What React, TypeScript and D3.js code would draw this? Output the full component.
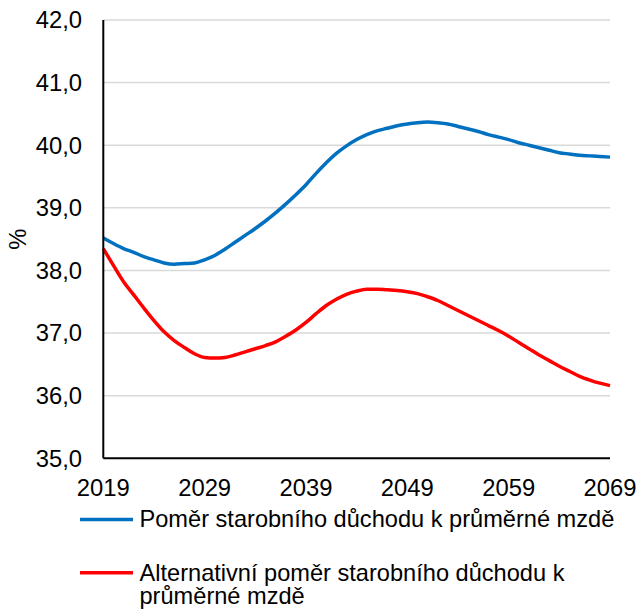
import React from "react";
import * as d3 from "d3";

const years: number[] = d3.range(2019, 2070);
const ratio: number[] = [
  38.52, 38.43, 38.35, 38.29, 38.22, 38.17, 38.12, 38.1, 38.11, 38.12,
  38.17, 38.24, 38.34, 38.45, 38.56, 38.67, 38.79, 38.92, 39.06, 39.21,
  39.37, 39.55, 39.72, 39.87, 39.99, 40.09, 40.17, 40.23, 40.27, 40.31,
  40.34, 40.36, 40.37, 40.36, 40.34, 40.3, 40.26, 40.22, 40.17, 40.13,
  40.09, 40.04, 40.0, 39.96, 39.92, 39.88, 39.86, 39.84, 39.83, 39.82, 39.81,
];
const altRatio: number[] = [
  38.35, 38.08, 37.82, 37.61, 37.4, 37.2, 37.02, 36.88, 36.77, 36.67,
  36.61, 36.6, 36.61, 36.65, 36.7, 36.75, 36.8, 36.86, 36.95, 37.05,
  37.17, 37.31, 37.44, 37.54, 37.62, 37.67, 37.7, 37.7, 37.69, 37.68,
  37.66, 37.63, 37.58, 37.52, 37.44, 37.36, 37.28, 37.2, 37.12, 37.04,
  36.95, 36.85, 36.75, 36.65, 36.56, 36.47, 36.39, 36.31, 36.25, 36.2, 36.16,
];
const xTicks: number[] = [2019, 2029, 2039, 2049, 2059, 2069];
const yTicks: number[] = [35, 36, 37, 38, 39, 40, 41, 42];
const seriesNames: string[] = [
  "Poměr starobního důchodu k průměrné mzdě",
  "Alternativní poměr starobního důchodu k",
  "průměrné mzdě",
];
const yLabel = "%";

const W = 637;
const H = 610;
const FONT = "'Liberation Sans', Arial, sans-serif";

export default function App() {
  const x = d3.scaleLinear().domain([2019, 2069]).range([103.3, 610]);
  const y = d3.scaleLinear().domain([35, 42]).range([458.3, 20]);
  const line = d3
    .line<number>()
    .x((_, i) => x(years[i]))
    .y((d) => y(d))
    .curve(d3.curveMonotoneX);

  const fmt = (v: number) => v.toFixed(1).replace(".", ",");

  return (
    <svg
      width={W}
      height={H}
      style={{ position: "absolute", left: 0, top: 0, background: "#fff" }}
      fontFamily={FONT}
    >
      <rect width={W} height={H} fill="#fff" />
      {yTicks.slice(1).map((t) => (
        <line
          key={"g" + t}
          x1={x(2019)}
          x2={x(2069)}
          y1={y(t)}
          y2={y(t)}
          stroke="#d9d9d9"
          strokeWidth={1.5}
        />
      ))}
      {yTicks.map((t) => (
        <text
          key={"yl" + t}
          x={82}
          y={y(t)}
          dy="0.35em"
          textAnchor="end"
          fontSize={23.8}
          fill="#000"
        >
          {fmt(t)}
        </text>
      ))}
      <text
        transform={`translate(${26},${(y(35) + y(42)) / 2}) rotate(-90)`}
        textAnchor="middle"
        fontSize={23.8}
        fill="#000"
      >
        {yLabel}
      </text>
      <path d={line(ratio) || ""} fill="none" stroke="#0070c0" strokeWidth={3.5} strokeLinejoin="round" />
      <path d={line(altRatio) || ""} fill="none" stroke="#ff0000" strokeWidth={3.5} strokeLinejoin="round" />
      <line x1={x(2019)} x2={x(2019)} y1={y(42)} y2={y(35)} stroke="#000" strokeWidth={2} />
      <line x1={x(2019)} x2={x(2069)} y1={y(35)} y2={y(35)} stroke="#000" strokeWidth={2} />
      {xTicks.map((t) => (
        <text key={"xl" + t} x={x(t)} y={495.5} textAnchor="middle" fontSize={23.8} fill="#000">
          {t}
        </text>
      ))}
      <line x1={80} x2={133} y1={519.5} y2={519.5} stroke="#0070c0" strokeWidth={3.5} />
      <text x={139.5} y={527} fontSize={23.6} fill="#000">
        {seriesNames[0]}
      </text>
      <line x1={80} x2={133} y1={572.7} y2={572.7} stroke="#ff0000" strokeWidth={3.5} />
      <text x={139.5} y={580.7} fontSize={23.6} fill="#000">
        {seriesNames[1]}
      </text>
      <text x={139.5} y={603.5} fontSize={23.6} fill="#000">
        {seriesNames[2]}
      </text>
    </svg>
  );
}
